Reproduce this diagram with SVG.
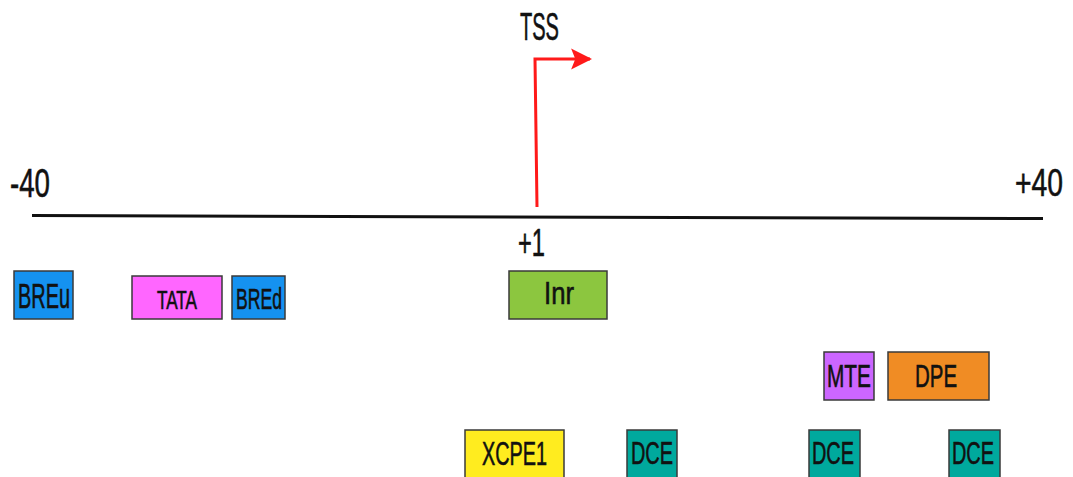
<svg xmlns="http://www.w3.org/2000/svg" width="1073" height="477" viewBox="0 0 1073 477">
<style>
  .box { stroke: #3a3a3a; stroke-width: 1.5; }
  .lbl { font-family: "Liberation Sans", Arial, sans-serif; fill: #111; stroke: #111; stroke-width: 0.6; }
  .blue { fill: #1592f0; }
  .pink { fill: #ff66ff; }
  .green { fill: #8cc63f; }
  .yellow { fill: #ffec1f; }
  .purple { fill: #cc66ff; }
  .orange { fill: #f08c24; }
  .teal { fill: #00a99d; }
</style>
<defs>
  <marker id="arr" viewBox="0 0 10 10" refX="9" refY="5" markerWidth="21" markerHeight="30" markerUnits="userSpaceOnUse" orient="auto">
    <path d="M0,0 L10,5 L0,10 L2,5 Z" fill="#ff1a1a"/>
  </marker>
</defs>
<rect width="1073" height="477" fill="#ffffff"/>
<g id="axis">
  <line x1="32" y1="215.5" x2="1043" y2="218.5" stroke="#111" stroke-width="3"/>
  <text class="lbl" x="10" y="197" font-size="40" textLength="40" lengthAdjust="spacingAndGlyphs">-40</text>
  <text class="lbl" x="1015" y="196" font-size="39" textLength="48" lengthAdjust="spacingAndGlyphs">+40</text>
  <text class="lbl" x="518" y="256" font-size="38" textLength="27" lengthAdjust="spacingAndGlyphs">+1</text>
</g>
<g id="connectors">
  <polyline points="537,207 535,59 590,59" fill="none" stroke="#ff1a1a" stroke-width="3" marker-end="url(#arr)"/>
  <text class="lbl" x="520" y="40" font-size="38" textLength="39" lengthAdjust="spacingAndGlyphs">TSS</text>
</g>
<g id="BREu">
  <rect class="box blue" x="14" y="271" width="59" height="48"/>
  <text class="lbl" x="18" y="308" font-size="35" textLength="52" lengthAdjust="spacingAndGlyphs">BREu</text>
</g>
<g id="TATA">
  <rect class="box pink" x="132" y="276" width="90" height="43"/>
  <text class="lbl" x="157" y="309" font-size="25" textLength="40" lengthAdjust="spacingAndGlyphs">TATA</text>
</g>
<g id="BREd">
  <rect class="box blue" x="232" y="276" width="53" height="43"/>
  <text class="lbl" x="236" y="309" font-size="30" textLength="46" lengthAdjust="spacingAndGlyphs">BREd</text>
</g>
<g id="Inr">
  <rect class="box green" x="509" y="271" width="98" height="48"/>
  <text class="lbl" x="544" y="304" font-size="32" textLength="30" lengthAdjust="spacingAndGlyphs">Inr</text>
</g>
<g id="MTE">
  <rect class="box purple" x="824" y="352" width="50" height="48"/>
  <text class="lbl" x="827" y="387" font-size="32" textLength="44" lengthAdjust="spacingAndGlyphs">MTE</text>
</g>
<g id="DPE">
  <rect class="box orange" x="888" y="352" width="101" height="48"/>
  <text class="lbl" x="915" y="387" font-size="32" textLength="42" lengthAdjust="spacingAndGlyphs">DPE</text>
</g>
<g id="XCPE1">
  <rect class="box yellow" x="465" y="430" width="99" height="50"/>
  <text class="lbl" x="482" y="465" font-size="33" textLength="65" lengthAdjust="spacingAndGlyphs">XCPE1</text>
</g>
<g id="DCE1">
  <rect class="box teal" x="627" y="430" width="50" height="50"/>
  <text class="lbl" x="631" y="464" font-size="32" textLength="42" lengthAdjust="spacingAndGlyphs">DCE</text>
</g>
<g id="DCE2">
  <rect class="box teal" x="809" y="430" width="51" height="50"/>
  <text class="lbl" x="812" y="464" font-size="32" textLength="42" lengthAdjust="spacingAndGlyphs">DCE</text>
</g>
<g id="DCE3">
  <rect class="box teal" x="949" y="430" width="51" height="50"/>
  <text class="lbl" x="952" y="464" font-size="32" textLength="42" lengthAdjust="spacingAndGlyphs">DCE</text>
</g>
</svg>
